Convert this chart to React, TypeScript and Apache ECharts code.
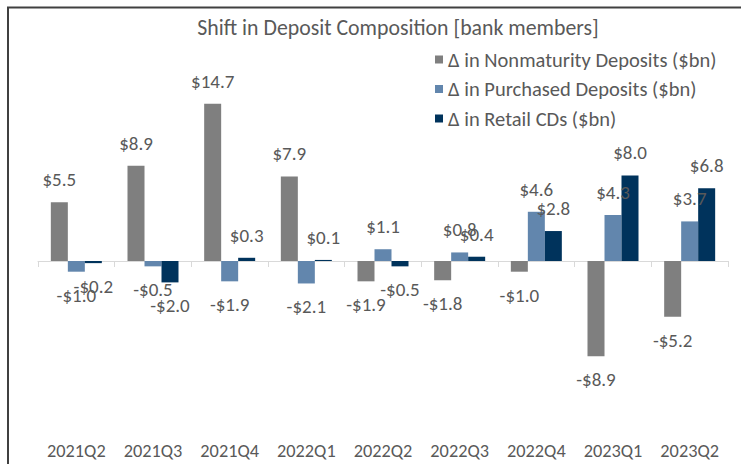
import React, { useEffect, useRef } from "react";
import * as echarts from "echarts";

const categories = ["2021Q2", "2021Q3", "2021Q4", "2022Q1", "2022Q2", "2022Q3", "2022Q4", "2023Q1", "2023Q2"];
const nonmaturity = [5.5, 8.9, 14.7, 7.9, -1.9, -1.8, -1.0, -8.9, -5.2];
const purchased = [-1.0, -0.5, -1.9, -2.1, 1.1, 0.8, 4.6, 4.3, 3.7];
const retailCDs = [-0.2, -2.0, 0.3, 0.1, -0.5, 0.4, 2.8, 8.0, 6.8];
const seriesNames = [
  "Δ in Nonmaturity Deposits ($bn)",
  "Δ in Purchased Deposits ($bn)",
  "Δ in Retail CDs ($bn)",
];
const titleText = "Shift in Deposit Composition [bank members]";

const FONT = "Carlito, Lato, sans-serif";
const TEXT = "#595959";
const colors = ["#7f7f7f", "#6286ad", "#00335c"];

const fmt = (v: number) => (v < 0 ? "-" : "") + "$" + Math.abs(v).toFixed(1);

export default function App() {
  const ref = useRef<HTMLDivElement>(null);
  useEffect(() => {
    document.body.style.margin = "0";
    const chart = echarts.init(ref.current!, null, { renderer: "svg" });
    const mk = (name: string, vals: number[], color: string) => ({
      name,
      type: "bar",
      xAxisIndex: 0,
      barWidth: 17,
      barGap: "0%",
      itemStyle: { color },
      label: {
        show: true,
        formatter: (p: any) => fmt(p.value),
        color: TEXT,
        fontFamily: FONT,
        fontSize: 19,
      },
      data: vals.map((v) => ({
        value: v,
        label: { position: v >= 0 ? "top" : "bottom", distance: v >= 0 ? 13 : 14 },
      })),
    });
    chart.setOption({
      animation: false,
      backgroundColor: "#ffffff",
      textStyle: { fontFamily: FONT },
      graphic: [
        {
          type: "rect",
          shape: { x: 8, y: 7.5, width: 900, height: 600 },
          style: { fill: "none", stroke: "#404040", lineWidth: 2 },
          silent: true,
          z: 100,
        },
        {
          type: "text",
          x: 398,
          y: 27,
          style: {
            text: titleText,
            fill: TEXT,
            font: `21.8px ${FONT}`,
            textAlign: "center",
            textVerticalAlign: "middle",
          },
        },
      ],
      legend: {
        orient: "vertical",
        left: 430,
        top: 44,
        itemWidth: 8,
        itemHeight: 8,
        itemGap: 8.5,
        icon: "rect",
        textStyle: { color: TEXT, fontSize: 20.5, fontFamily: FONT, lineHeight: 20, padding: [0, 0, 0, 0] },
        data: seriesNames,
      },
      grid: { left: 38, right: 13, top: 89.8, height: 342.4 },
      xAxis: [
        {
          type: "category",
          data: categories,
          position: "top",
          axisLine: { show: true, onZero: true, lineStyle: { color: "#d9d9d9", width: 1 } },
          axisTick: { show: true, inside: true, length: 6, lineStyle: { color: "#d9d9d9" } },
          axisLabel: { show: false },
        },
        {
          type: "category",
          data: categories,
          position: "bottom",
          axisLine: { show: false, onZero: false },
          axisTick: { show: false },
          axisLabel: { color: TEXT, fontSize: 18.3, fontFamily: FONT, margin: 10 },
        },
      ],
      yAxis: {
        type: "value",
        min: -16,
        max: 16,
        show: false,
        splitLine: { show: false },
      },
      series: [
        mk(seriesNames[0], nonmaturity, colors[0]),
        mk(seriesNames[1], purchased, colors[1]),
        mk(seriesNames[2], retailCDs, colors[2]),
      ],
    });
    return () => chart.dispose();
  }, []);
  return <div ref={ref} style={{ position: "absolute", left: 0, top: 0, width: 741, height: 464 }} />;
}
